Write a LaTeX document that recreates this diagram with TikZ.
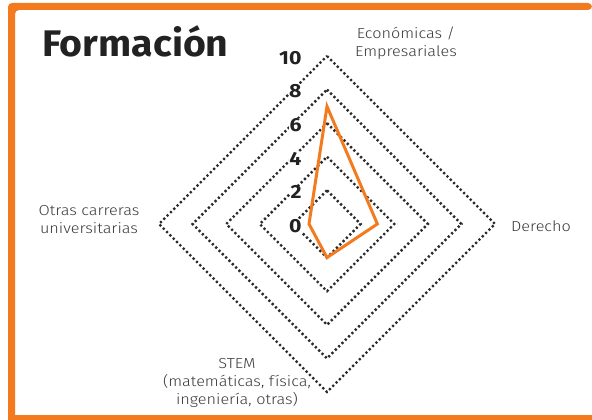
\documentclass[tikz,border=0pt]{standalone}
\usepackage{fontspec}
\setmainfont{Fira Sans}
\newfontfamily\lightfont{Fira Sans Light}[FakeStretch=1.12]
\newfontfamily\boldwide{Fira Sans}[FakeStretch=1.06]
\newfontfamily\tickfont{Fira Sans}[FakeStretch=1.12]
\definecolor{frameorange}{HTML}{F47A20}
\definecolor{dotgray}{HTML}{2B2B2B}
\definecolor{txtgray}{HTML}{3A3A3A}
\definecolor{inkblack}{HTML}{222222}
\begin{document}
\begin{tikzpicture}[x=1pt,y=-1pt,
 ring/.style={dotgray, line width=2.4pt, dash pattern=on 2.2pt off 2.5pt},
 series/.style={frameorange, line width=3pt, line join=miter},
 framefill/.style={fill=frameorange, draw=none},
 axislabel/.style={font=\lightfont\fontsize{14.5}{18}\selectfont, text=txtgray, align=center, inner sep=0pt},
 tick/.style={font=\tickfont\bfseries\fontsize{19}{19}\selectfont, text=inkblack, anchor=east, inner sep=0.3pt, fill=white},
 titlestyle/.style={font=\boldwide\bfseries\fontsize{37}{37}\selectfont, text=inkblack, anchor=base west, inner sep=0pt}]
\useasboundingbox (0,0) rectangle (592,420);
\fill[white] (0,0) rectangle (592,420);
% frame bands
\fill[framefill, rounded corners=4pt] (8,420) -- (8,3) -- (592,3) -- (592,10) -- (15,10) -- (15,420) -- cycle;
\fill[framefill] (8,415) rectangle (592,420);
% rings
\foreach \k in {2,4,6,8,10}{
  \pgfmathsetmacro\r{16.8*\k}
  \draw[ring] (327,{224-\r}) -- ({327+\r},224) -- (327,{224+\r}) -- ({327-\r},224) -- cycle;
}
% series
\coordinate (pE) at (327,106.4);
\coordinate (pD) at (377.4,224);
\coordinate (pS) at (327,257.6);
\coordinate (pO) at (309,224);
\draw[series] (pE) -- (pD) -- (pS) -- (pO) -- cycle;
% ticks
\foreach \k in {0,2,4,6,8,10}{
  \node[tick] (t\k) at (302,{226-16.8*\k}) {\k};
}
% title
\node[titlestyle] (title) at (42,57) {Formación};
% axis labels
\node[axislabel] (econ) at (406,43) {Económicas /\\Empresariales};
\node[axislabel] (der) at (541,226) {Derecho};
\node[axislabel] (otras) at (89,220) {Otras carreras\\universitarias};
\node[axislabel] (stem) at (237,383) {STEM\\(matemáticas, física,\\ingeniería, otras)};
\end{tikzpicture}
\end{document}
